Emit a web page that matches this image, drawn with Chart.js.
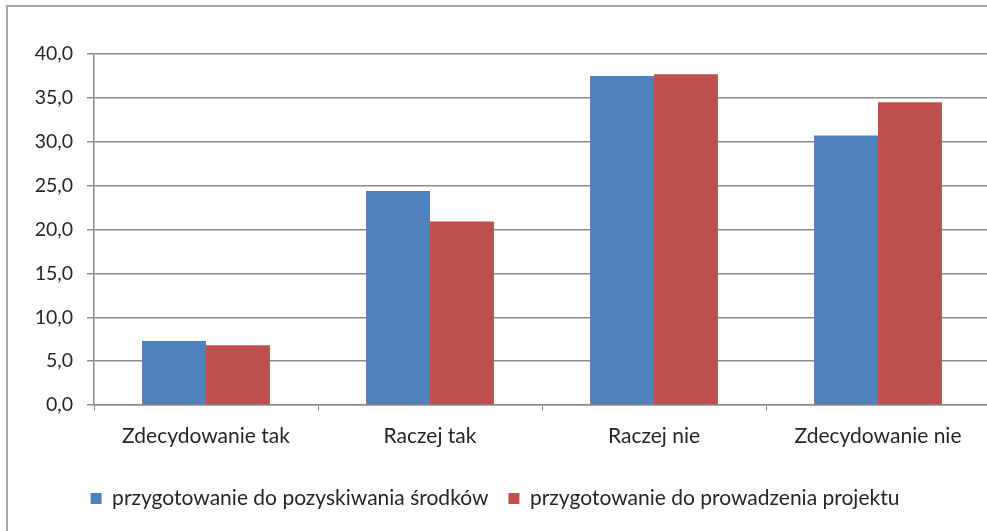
<!DOCTYPE html>
<html>
<head>
<meta charset="utf-8">
<script src="https://cdn.jsdelivr.net/npm/chart.js@4/dist/chart.umd.min.js"></script>
<style>
  html, body { margin: 0; padding: 0; background: #fff; overflow: hidden; }
  #frame {
    position: absolute; left: 6px; top: 5px; width: 1100px; height: 600px;
    border-left: 2px solid #a6a6a6; border-top: 2px solid #a6a6a6;
  }
  #wrap { position: absolute; left: 0; top: 0; width: 1000px; height: 531px; }
</style>
</head>
<body>
<div id="frame"></div>
<div id="wrap"><canvas id="chart"></canvas></div>
<script>
// Dane
const categories = ['Zdecydowanie tak', 'Raczej tak', 'Raczej nie', 'Zdecydowanie nie'];
const seriesNames = ['przygotowanie do pozyskiwania środków', 'przygotowanie do prowadzenia projektu'];
const srodki = [7.3, 24.4, 37.5, 30.7];
const projekt = [6.8, 20.9, 37.7, 34.5];

const textColor = '#262626';
const gridColor = '#8c8c8c';
const fontFamily = 'Lato, "Open Sans", sans-serif';

const ctx = document.getElementById('chart').getContext('2d');
new Chart(ctx, {
    type: 'bar',
    data: {
        labels: categories,
        datasets: [
            { label: seriesNames[0], data: srodki, backgroundColor: '#4f81bd' },
            { label: seriesNames[1], data: projekt, backgroundColor: '#c0504d' }
        ]
    },
    options: {
        responsive: true,
        maintainAspectRatio: false,
        animation: false,
        barPercentage: 1,
        categoryPercentage: 0.571,
        layout: { padding: { top: 54, right: 10, left: 0, bottom: 12 } },
        plugins: {
            tooltip: { enabled: false },
            legend: {
                position: 'bottom',
                labels: {
                    boxWidth: 11,
                    boxHeight: 11,
                    padding: 20,
                    color: textColor,
                    font: { family: fontFamily, size: 21 }
                }
            }
        },
        scales: {
            x: {
                afterFit: (scale) => { scale.height = 63; },
                grid: { drawOnChartArea: false, drawTicks: true, tickLength: 6, color: gridColor },
                border: { color: gridColor, width: 1.5 },
                ticks: { color: textColor, padding: 13, font: { family: fontFamily, size: 21 } }
            },
            y: {
                min: 0,
                max: 40,
                afterFit: (scale) => { scale.width = 94; },
                grid: { color: gridColor, lineWidth: 1.5, tickLength: 7 },
                border: { color: gridColor, width: 1.5 },
                ticks: {
                    stepSize: 5,
                    padding: 14,
                    color: textColor,
                    font: { family: fontFamily, size: 19.5 },
                    callback: (v) => v.toFixed(1).replace('.', ',')
                }
            }
        }
    }
});
</script>
</body>
</html>
